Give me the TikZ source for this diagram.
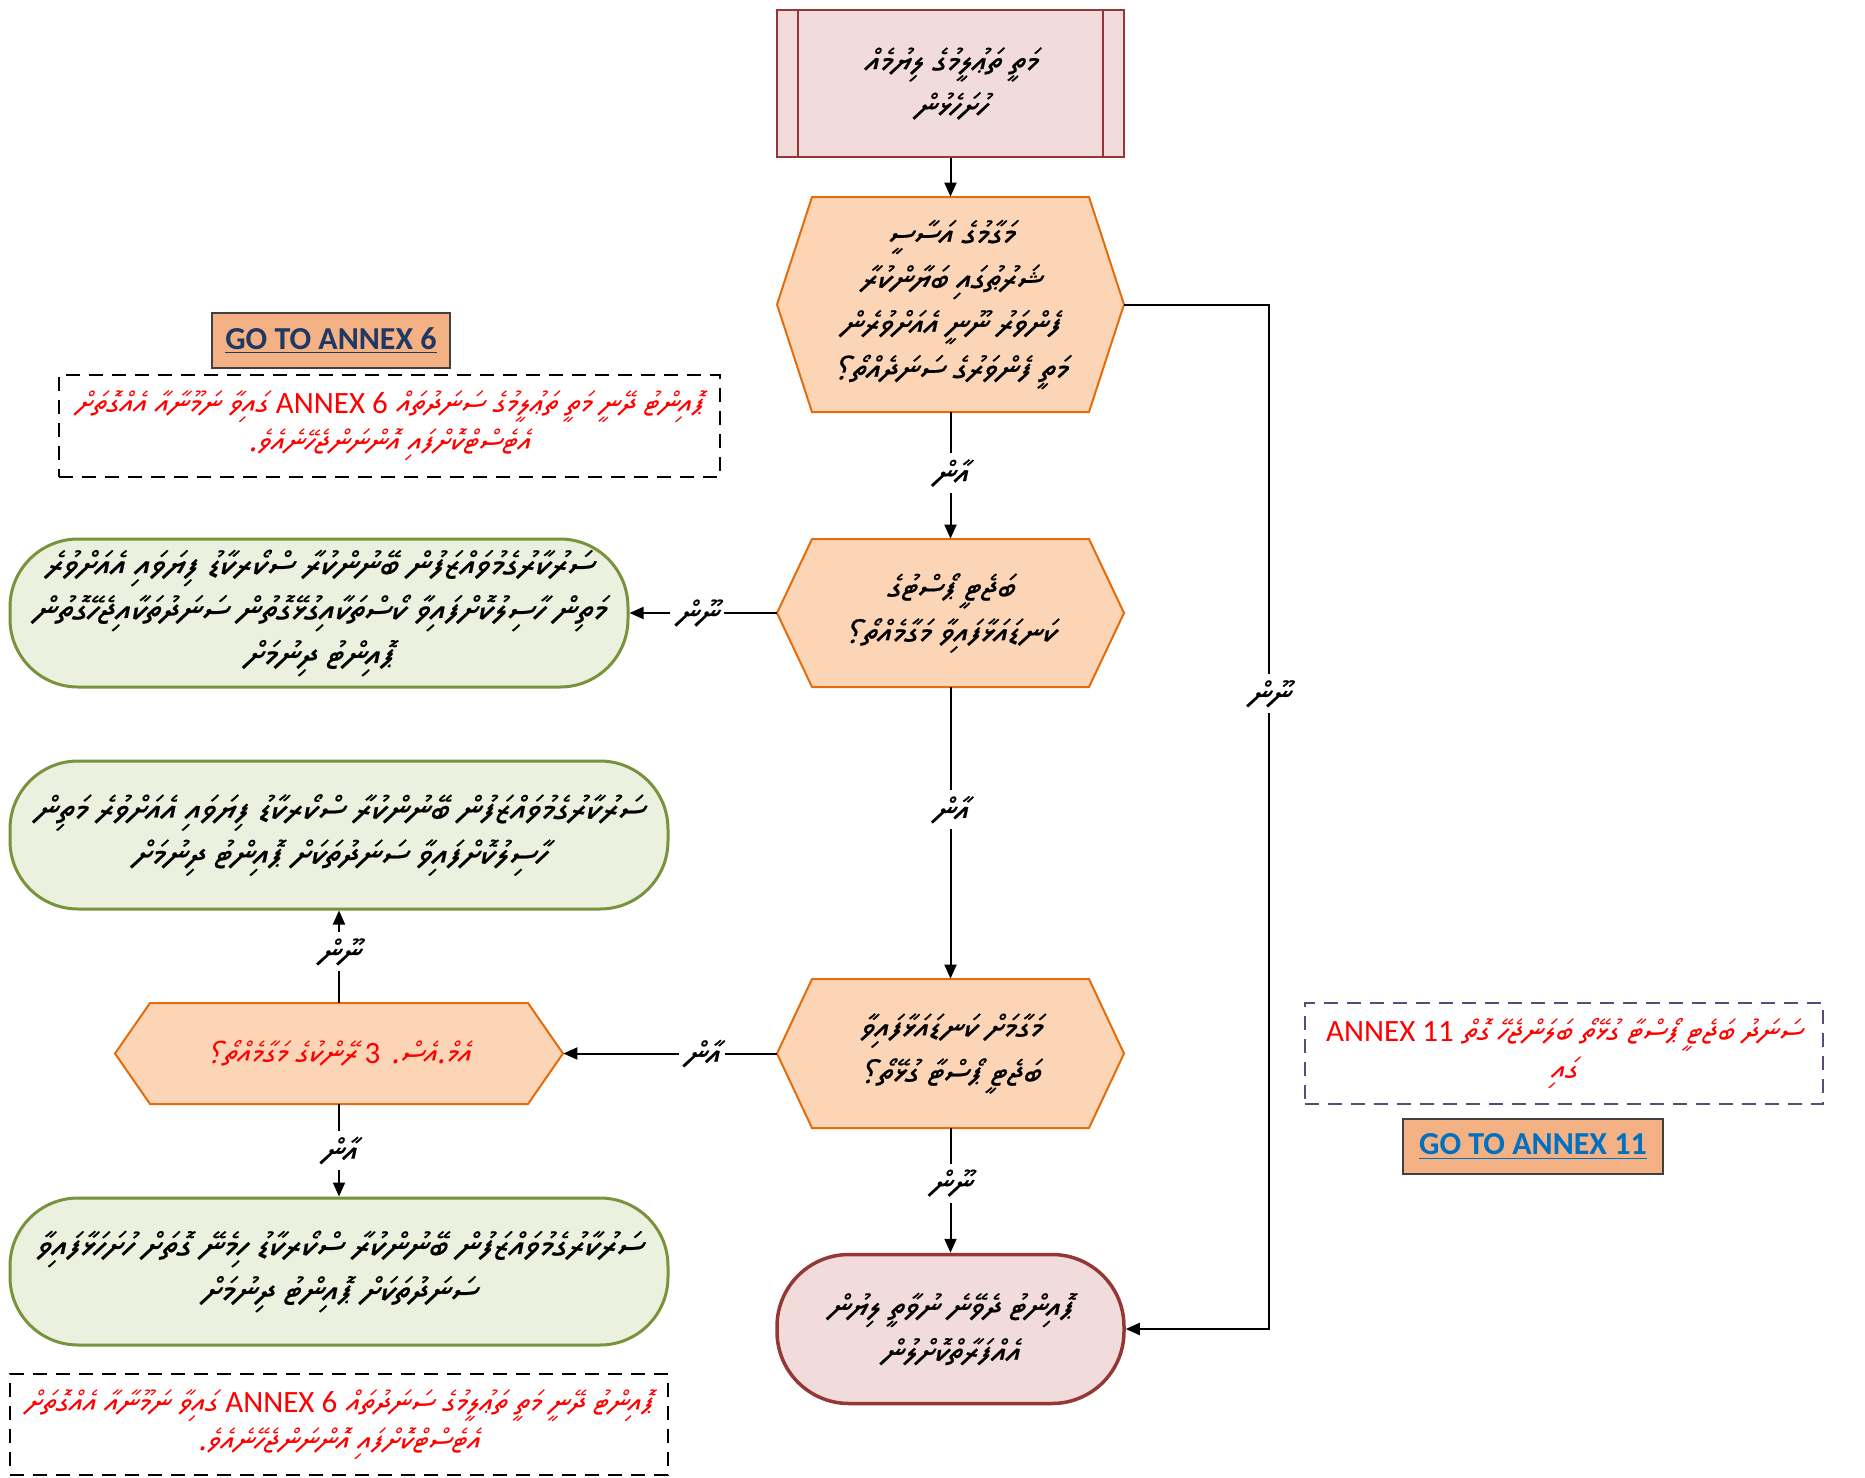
\documentclass[tikz,border=0pt]{standalone}
\usepackage{fontspec}
\usetikzlibrary{arrows.meta}
\TeXXeTstate=1
\newfontfamily\lat{Carlito}
\IfFontExistsTF{Noto Sans Thaana}{%
 \newfontfamily\thaanafont[Script=Thaana,FakeSlant=0.2,FakeBold=0.6]{Noto Sans Thaana}%
 \newfontfamily\thaanared[Script=Thaana,FakeSlant=0.2]{Noto Sans Thaana}}{%
 \newfontfamily\thaanafont[Script=Thaana,FakeSlant=0.2]{FreeSerif}%
 \newfontfamily\thaanared[Script=Thaana,FakeSlant=0.2]{FreeSerif}}
\newcommand\dv[1]{{\beginR #1\endR}}
\newcommand\lt[1]{\beginL{\lat #1}\endL{}}
\definecolor{hexfill}{HTML}{FBD5B5}
\definecolor{hexline}{HTML}{E46C0A}
\definecolor{grfill}{HTML}{EBF1DE}
\definecolor{grline}{HTML}{77933C}
\definecolor{rdfill}{HTML}{F2DCDB}
\definecolor{rdline}{HTML}{953735}
\definecolor{gofill}{HTML}{F4B183}
\definecolor{goline}{HTML}{404040}
\definecolor{navy}{HTML}{1F3864}
\definecolor{linkblue}{HTML}{0070C0}
\definecolor{purpl}{HTML}{5F497A}
\newcommand\hexnode[7]{%
 \filldraw[#1] ({#3-#5/2},#4) -- ({#3-#5/2+35},{#4-#6/2}) -- ({#3+#5/2-35},{#4-#6/2}) -- ({#3+#5/2},#4) -- ({#3+#5/2-35},{#4+#6/2}) -- ({#3-#5/2+35},{#4+#6/2}) -- cycle;
 \node[minimum width={#5*0.5pt}, minimum height={#6*0.5pt}, inner sep=0pt, align=center] (#2) at (#3,#4) {#7};}
\tikzset{
 hexstyle/.style={fill=hexfill, draw=hexline, line width=1pt},
 maintext/.style={font=\thaanafont\fontsize{16.5}{22.5}\selectfont},
 greentext/.style={font=\thaanafont\fontsize{17.5}{22.5}\selectfont},
 redtext/.style={font=\thaanared\fontsize{15.5}{19}\selectfont, text=red},
 greenbox/.style={draw=grline, fill=grfill, line width=1.5pt, rounded corners=34pt, align=center, inner sep=0pt, greentext},
 dashbox/.style={draw=black, dash pattern=on 7pt off 4.5pt, line width=0.75pt, align=center, inner sep=0pt, redtext},
 gobox/.style={draw=goline, fill=gofill, line width=0.8pt, inner sep=0pt, font=\lat\bfseries\fontsize{16}{20}\selectfont},
 conn/.style={draw=black, line width=1pt, -{Triangle[length=7pt,width=6pt]}},
 lbl/.style={fill=white, inner sep=3pt, maintext}
}
\begin{document}
\begin{tikzpicture}[x=0.5pt,y=-0.5pt]
\useasboundingbox (0,0) rectangle (1865,1478);
% top box
\node[draw=rdline, fill=rdfill, line width=0.9pt, minimum width=173.5pt, minimum height=73.5pt, inner sep=0pt, align=center, maintext] (tb) at (950.5,83.5)
 {\dv{މަތީ ތަޢުލީމުގެ ލިޔުމެއް}\\\dv{ހުށަހެޅުން}};
\draw[draw=rdline, line width=0.9pt] ([xshift=11pt]tb.north west) -- ([xshift=11pt]tb.south west);
\draw[draw=rdline, line width=0.9pt] ([xshift=-11pt]tb.north east) -- ([xshift=-11pt]tb.south east);
% hexagons
\begin{scope}[maintext]
\hexnode{hexstyle}{h1}{950.5}{304.5}{347}{215}{\dv{މަގާމުގެ އަސާސީ}\\\dv{ޝަރުޠުގައި ބަޔާންކުރާ}\\\dv{ފެންވަރު ނޫނީ އެއަށްވުރެން}\\\dv{މަތީ ފެންވަރުގެ ސަނަދެއްތޯ؟}}
\hexnode{hexstyle}{h2}{950.5}{613}{347}{148}{\dv{ބަޖެޓީ ޕޯސްޓުގެ}\\\dv{ކަނޑައަޅާފައިވާ މަގާމެއްތޯ؟}}
\hexnode{hexstyle}{h3}{950.5}{1053.5}{347}{149}{\dv{މަގާމަށް ކަނޑައަޅާފައިވާ}\\\dv{ބަޖެޓީ ޕޯސްޓާ ގުޅޭތޯ؟}}
\end{scope}
\begin{scope}[redtext]
\hexnode{hexstyle}{lh}{339}{1053.5}{448}{101}{\dv{އެމް.އެސް. \lt{3} ރޭންކުގެ މަގާމެއްތޯ؟}}
\end{scope}
% terminal
\node[draw=rdline, fill=rdfill, line width=1.75pt, rounded corners=36pt, minimum width=173.5pt, minimum height=74.5pt, inner sep=0pt, align=center, maintext] (term) at (950.5,1329)
 {\dv{ޕޮއިންޓު ދެވޭނެ ނުވާތީ ލިޔުން}\\\dv{އެއްފަރާތްކޮށްލުން}};
% green boxes
\node[greenbox, minimum width=309pt, minimum height=74pt] (g1) at (319,613)
 {\dv{ސަރުކާރުގެމުވައްޒަފުން ބޭނުންކުރާ ސްކޯރކާޑު ފިޔަވައި އެއަށްވުރެ}\\\dv{މަތިން ހާސިލުކޮށްފައިވާ ކޯސްތަކާއިގުޅޭގޮތުން ސަނަދުތަކާއިޖެހޭގޮތުން}\\\dv{ޕޮއިންޓު ދިނުމަށް}};
\node[greenbox, minimum width=329pt, minimum height=74pt] (g2) at (339,835)
 {\dv{ސަރުކާރުގެމުވައްޒަފުން ބޭނުންކުރާ ސްކޯރކާޑު ފިޔަވައި އެއަށްވުރެ މަތިން}\\\dv{ހާސިލުކޮށްފައިވާ ސަނަދުތަކަށް ޕޮއިންޓު ދިނުމަށް}};
\node[greenbox, minimum width=329pt, minimum height=73.5pt] (g3) at (339,1271.5)
 {\dv{ސަރުކާރުގެމުވައްޒަފުން ބޭނުންކުރާ ސްކޯރކާޑު ހިމެނޭ ގޮތަށް ހުށަހަޅާފައިވާ}\\\dv{ސަނަދުތަކަށް ޕޮއިންޓު ދިނުމަށް}};
% dashed notes
\node[dashbox, minimum width=330.5pt, minimum height=51pt] (d1) at (389.5,426)
 {\dv{ޕޮއިންޓު ދޭނީ މަތީ ތަޢުލީމުގެ ސަނަދުތައް \lt{ANNEX 6} ގައިވާ ނަމޫނާއާ އެއްގޮތަށް}\\\dv{އެޓެސްޓްކޮށްފައި އޮންނަންޖެހޭނެއެވެ.}};
\node[dashbox, minimum width=329pt, minimum height=50.5pt] (d2) at (339,1424.5)
 {\dv{ޕޮއިންޓު ދޭނީ މަތީ ތަޢުލީމުގެ ސަނަދުތައް \lt{ANNEX 6} ގައިވާ ނަމޫނާއާ އެއްގޮތަށް}\\\dv{އެޓެސްޓްކޮށްފައި އޮންނަންޖެހޭނެއެވެ.}};
\node[dashbox, draw=purpl, minimum width=259pt, minimum height=50.5pt] (d3) at (1564,1053.5)
 {\dv{ސަނަދު ބަޖެޓީ ޕޯސްޓާ ގުޅޭތޯ ބަލަންޖެހޭ ގޮތް \lt{ANNEX 11}}\\\dv{ގައި}};
% go to boxes
\node[gobox, minimum width=119pt, minimum height=27.5pt, text=navy] (go6) at (331,340.5) {\underline{GO TO ANNEX 6}};
\node[gobox, minimum width=130pt, minimum height=27.5pt, text=linkblue] (go11) at (1533,1146.5) {\underline{GO TO ANNEX 11}};
% connectors
\coordinate (c1) at (1269,304.5);
\coordinate (c2) at (1269,1329);
\draw[conn] (tb) -- (h1);
\draw[conn] (h1) -- node[lbl, pos=0.48] {\dv{އާން}} (h2);
\draw[conn] (h2) -- node[lbl, pos=0.54] {\dv{ނޫން}} (g1);
\draw[conn] (h2) -- node[lbl, pos=0.42] {\dv{އާން}} (h3);
\draw[conn] (h3.west) -- node[lbl, pos=0.35] {\dv{އާން}} (lh.east |- h3.west);
\draw[conn] (h3) -- node[lbl, pos=0.44] {\dv{ނޫން}} (term);
\draw[conn] (lh.north) -- node[lbl, pos=0.55] {\dv{ނޫން}} (lh.north |- g2.south);
\draw[conn] (lh.south) -- node[lbl, pos=0.5] {\dv{އާން}} (lh.south |- g3.north);
\draw[conn] (h1.east) -- (c1) -- node[lbl, pos=0.38] {\dv{ނޫން}} (c2) -- (term.east);
\end{tikzpicture}
\end{document}
